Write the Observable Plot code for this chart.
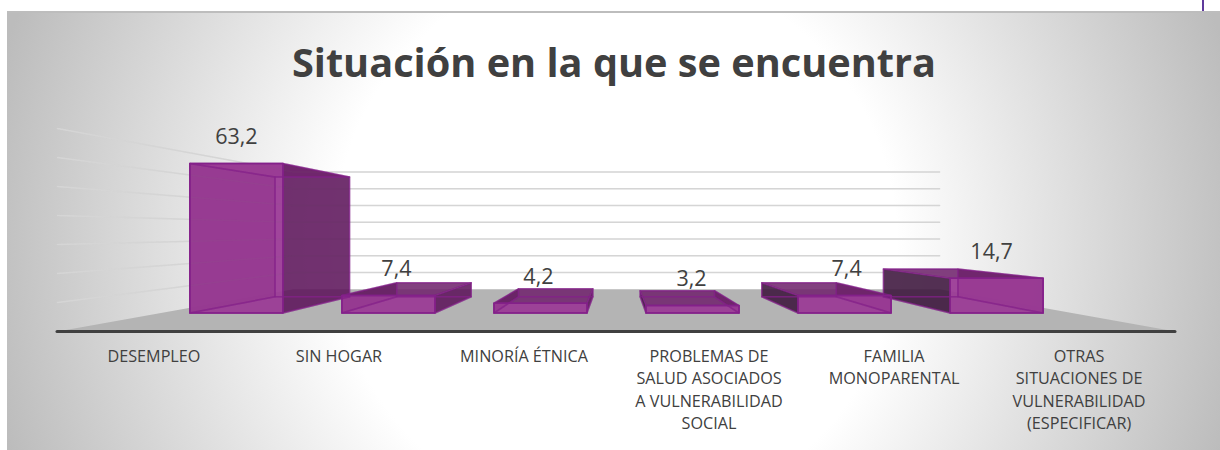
<!DOCTYPE html>
<html lang="es">
<head>
<meta charset="utf-8">
<script src="https://cdn.jsdelivr.net/npm/d3@7"></script>
<script src="https://cdn.jsdelivr.net/npm/@observablehq/plot@0.6"></script>
<style>
  html, body { margin: 0; padding: 0; background: #fff; }
  #page { position: relative; width: 1220px; height: 450px; overflow: hidden; }
  #card { position: absolute; left: 7px; top: 11px; right: 0; bottom: 0; border-top: 2px solid #bdbdbd; box-sizing: border-box;
    background: radial-gradient(ellipse 640px 640px at 608px 230px, #ffffff 44%, #bcbcbc 100%); }
  #mark { position: absolute; left: 1202px; top: 0; width: 2px; height: 11px; background: #5f3a9c; }
  #title { position: absolute; left: 0; width: 1228px; top: 36px; text-align: center; margin: 0;
    font: 700 39.7px "Open Sans", sans-serif; color: #404040; line-height: 52px; }
  #chart { position: absolute; left: 0; top: 100px; }
</style>
</head>
<body>
<div id="page">
  <div id="card"></div>
  <div id="mark"></div>
  <h1 id="title">Situación en la que se encuentra</h1>
  <div id="chart"></div>
</div>
<script>
const categories = ["DESEMPLEO", "SIN HOGAR", "MINORÍA ÉTNICA",
  "PROBLEMAS DE\nSALUD ASOCIADOS\nA VULNERABILIDAD\nSOCIAL", "FAMILIA\nMONOPARENTAL",
  "OTRAS\nSITUACIONES DE\nVULNERABILIDAD\n(ESPECIFICAR)"];
const values = [63.2, 7.4, 4.2, 3.2, 7.4, 14.7];
const gridValues = [10, 20, 30, 40, 50, 60, 70];
const labelNudge = [0, 0.043, -0.011, -0.005, 0.011, -0.027];

// Perspective of the 3-D chart: a point at depth s moves toward the vanishing point.
const vanishX = 3, vanishV = 34.5;
const axisDepth = 0.993, wallDepth = 0.578, boxFront = 0.816, boxBack = 0.653, halfBar = 0.306;
const projX = (x, s) => vanishX + (x - vanishX) * s;
const projV = (v, s) => vanishV + (v - vanishV) * s;

const faceFills = {
  back: "rgba(140,40,140,0.12)",
  bottom: "rgba(140,40,140,0.12)",
  left: "rgba(62,24,62,0.88)",
  right: "rgba(92,20,90,0.86)",
  top: "rgba(112,36,108,0.86)",
  front: "rgba(155,60,150,0.94)"
};

function poly(rows, id, fill, corners) {
  for (const [x, v] of [...corners, corners[0]]) rows.push({id, fill, x, v});
}

const boxes = [];
values.forEach((value, i) => {
  const a = i + 0.5 - halfBar, b = i + 0.5 + halfBar;
  const P = (x, v, s) => [projX(x, s), projV(v, s)];
  const f = boxFront, k = boxBack;
  const faces = {
    back: [P(a,0,k), P(b,0,k), P(b,value,k), P(a,value,k)],
    bottom: [P(a,0,f), P(b,0,f), P(b,0,k), P(a,0,k)],
    left: [P(a,0,f), P(a,value,f), P(a,value,k), P(a,0,k)],
    right: [P(b,0,f), P(b,value,f), P(b,value,k), P(b,0,k)],
    top: [P(a,value,f), P(b,value,f), P(b,value,k), P(a,value,k)],
    front: [P(a,0,f), P(b,0,f), P(b,value,f), P(a,value,f)]
  };
  for (const name of Object.keys(faces)) poly(boxes, `${i}-${name}`, faceFills[name], faces[name]);
});

const floor = [];
poly(floor, "floor", "#b4b4b4", [[0,0],[6,0],[projX(6,wallDepth),projV(0,wallDepth)],[projX(0,wallDepth),projV(0,wallDepth)]]);

const walls = gridValues.flatMap(v => [
  {id: v, x: 0, v},
  {id: v, x: projX(0, wallDepth), v: projV(v, wallDepth)},
  {id: v, x: projX(6, wallDepth), v: projV(v, wallDepth)}
]);

const labels = values.map((value, i) => ({
  x: projX(i + 0.5, boxFront) + labelNudge[i],
  v: projV(value, boxFront),
  text: value.toFixed(1).replace(".", ",")
}));

const chart = Plot.plot({
  width: 1220,
  height: 350,
  marginLeft: 57,
  marginRight: 45,
  marginTop: 28,
  marginBottom: 119,
  style: {background: "transparent"},
  x: {domain: [0, 6], axis: null},
  y: {domain: [0, 70], axis: null},
  marks: [
    Plot.line(walls, {x: "x", y: "v", z: "id", stroke: "#dcdcdc", strokeWidth: 1.5, curve: "linear"}),
    Plot.line(floor, {x: "x", y: "v", z: "id", fill: "fill", stroke: "none", curve: "linear"}),
    Plot.line(boxes, {x: "x", y: "v", z: "id", fill: "fill", stroke: "none", curve: "linear"}),
    Plot.line(walls, {x: "x", y: "v", z: "id", stroke: "#7d7d7d", strokeOpacity: 0.07, strokeWidth: 1.5, curve: "linear"}),
    Plot.line(boxes, {x: "x", y: "v", z: "id", stroke: "#84208a", strokeOpacity: 0.5, strokeWidth: 1.5, curve: "linear"}),
    Plot.line(boxes.filter(d => d.id.endsWith("-front")), {x: "x", y: "v", z: "id", stroke: "#84208a", strokeWidth: 1.5, curve: "linear"}),
    Plot.ruleY([0], {x1: 0, x2: 6, stroke: "#404040", strokeWidth: 3, strokeLinecap: "round"}),
    Plot.text(labels, {x: "x", y: "v", text: "text", dy: -26, fontSize: 21.5, fontFamily: "Open Sans", fill: "#404040"}),
    Plot.axisX(categories.map((c, i) => projX(i + 0.5, axisDepth)), {
      tickSize: 0,
      tickPadding: 14,
      tickFormat: t => categories[Math.round((t - vanishX) / axisDepth + vanishX - 0.5)],
      fontSize: 16.2,
      lineHeight: 1.39,
      fontFamily: "Open Sans",
      fill: "#404040",
      label: null
    })
  ]
});
document.getElementById("chart").appendChild(chart);
</script>
</body>
</html>
